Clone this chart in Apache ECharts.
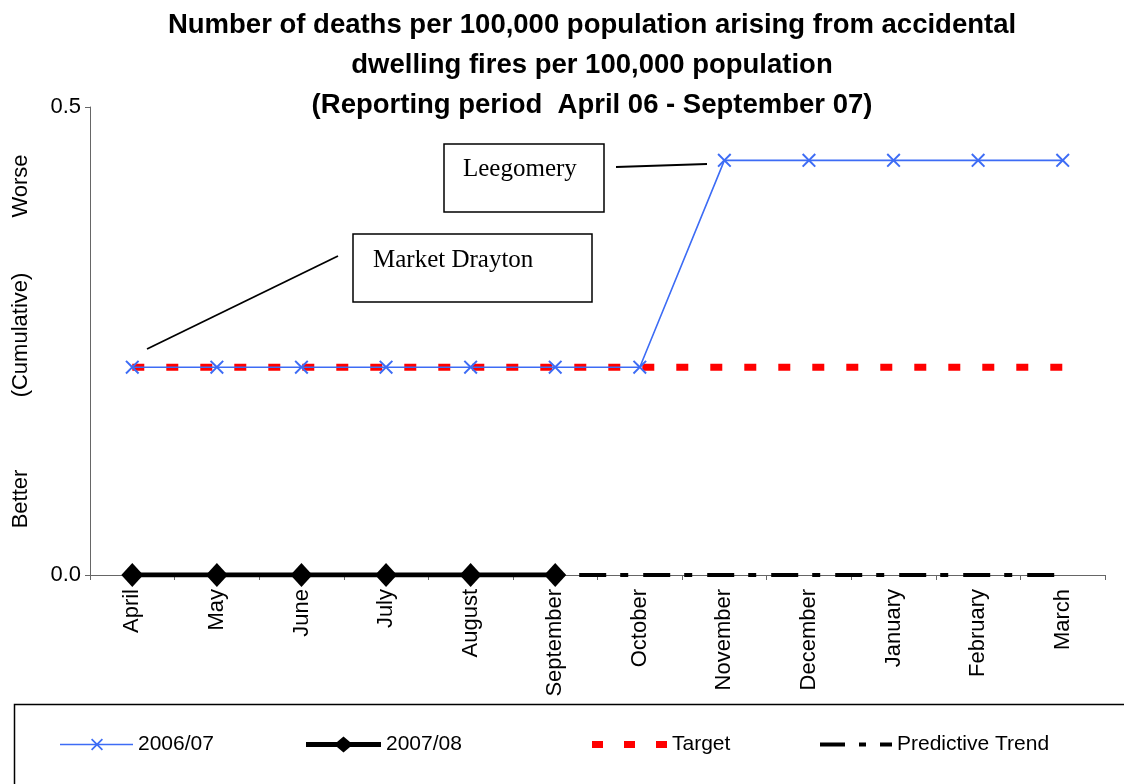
<!DOCTYPE html>
<html><head><meta charset="utf-8">
<script src="https://cdn.jsdelivr.net/npm/echarts@6/dist/echarts.min.js"></script>
<style>html,body{margin:0;padding:0;background:#fff}#c{width:1124px;height:784px}</style>
</head><body><div id="c"></div>
<script>
const months = ['April','May','June','July','August','September','October','November','December','January','February','March'];
const s2006 = [0.222,0.222,0.222,0.222,0.222,0.222,0.222,0.443,0.443,0.443,0.443,0.443];
const s2007 = [0,0,0,0,0,0,null,null,null,null,null,null];
const target = [0.222,0.222,0.222,0.222,0.222,0.222,0.222,0.222,0.222,0.222,0.222,0.222];
const trend = [null,null,null,null,null,0,0,0,0,0,0,0];
const yTicks = [0, 0.5];

const FONT = '"Liberation Sans", Arial, sans-serif';
const SERIF = '"Liberation Serif", "Times New Roman", serif';
const BLUE = '#3d6cf5';
const crossPath = 'path://M0,1L1,0L5,4L9,0L10,1L6,5L10,9L9,10L5,6L1,10L0,9L4,5Z';
const icon2006 = 'path://M0,5.3L73,5.3L73,6.7L0,6.7Z M31,1.2L32.2,0L37,4.8L41.8,0L43,1.2L38.2,6L43,10.8L41.8,12L37,7.2L32.2,12L31,10.8L35.8,6Z';
const icon2007 = 'path://M0,5.5L31,5.5L37.5,0L44,5.5L75,5.5L75,10.5L44,10.5L37.5,16L31,10.5L0,10.5Z';
const iconTarget = 'path://M0,0L11,0L11,7L0,7Z M32,0L43,0L43,7L32,7Z M64,0L75,0L75,7L64,7Z';
const iconTrend = 'path://M0,0L25,0L25,4L0,4Z M39,0L46,0L46,4L39,4Z M60,0L72,0L72,4L60,4Z';

const chart = echarts.init(document.getElementById('c'));
const lt = {fontFamily:FONT, fontSize:21, color:'#000'};
chart.setOption({
  animation:false,
  backgroundColor:'#fff',
  title:{
    text:'Number of deaths per 100,000 population arising from accidental\ndwelling fires per 100,000 population\n(Reporting period  April 06 - September 07)',
    left:587, textAlign:'center', top:0,
    textStyle:{fontFamily:FONT, fontSize:27.5, fontWeight:'bold', color:'#000', lineHeight:40}
  },
  grid:{left:90, right:19, top:107, bottom:209},
  xAxis:{
    type:'category', data:months, boundaryGap:true,
    axisLine:{lineStyle:{color:'#666', width:1}},
    axisTick:{show:true, length:5, lineStyle:{color:'#666'}},
    axisLabel:{rotate:90, fontFamily:FONT, fontSize:22, color:'#000', margin:14, interval:0}
  },
  yAxis:{
    type:'value', min:yTicks[0], max:yTicks[1], interval:0.5,
    axisLine:{show:true, lineStyle:{color:'#666', width:1}},
    axisTick:{show:true, length:5, lineStyle:{color:'#666'}},
    splitLine:{show:false},
    axisLabel:{fontFamily:FONT, fontSize:22, color:'#000', margin:9, formatter:v=>v.toFixed(1)}
  },
  legend:[
    {top:729, left:55, itemWidth:73, itemHeight:12, itemGap:0, textStyle:lt, data:[{name:'2006/07', icon:icon2006}]},
    {top:729, left:301, itemWidth:75, itemHeight:16, itemGap:0, textStyle:lt, data:[{name:'2007/08', icon:icon2007}]},
    {top:729, left:587, itemWidth:75, itemHeight:7, itemGap:0, textStyle:lt, data:[{name:'Target', icon:iconTarget}]},
    {top:729, left:815, itemWidth:72, itemHeight:4, itemGap:0, textStyle:lt, data:[{name:'Predictive Trend', icon:iconTrend}]}
  ],
  series:[
    {name:'Target', type:'line', data:target, symbol:'none', z:2,
     lineStyle:{color:'#ff0000', width:7, type:[12,22]}, itemStyle:{color:'#ff0000'}},
    {name:'Predictive Trend', type:'line', data:trend, symbol:'none', z:2, connectNulls:false,
     lineStyle:{color:'#000', width:4, type:[27,14,8,15], dashOffset:40}, itemStyle:{color:'#000'}},
    {name:'2006/07', type:'line', data:s2006, symbol:crossPath, symbolSize:14, z:4,
     lineStyle:{color:BLUE, width:1.6}, itemStyle:{color:BLUE}},
    {name:'2007/08', type:'line', data:s2007, symbol:'diamond', symbolSize:[22,24], z:5,
     lineStyle:{color:'#000', width:5}, itemStyle:{color:'#000'}}
  ],
  graphic:[
    {type:'rect', shape:{x:14.5, y:704.5, width:1120, height:100}, style:{fill:null, stroke:'#000', lineWidth:1.5}, silent:true},
    {type:'text', x:21, y:186, rotation:Math.PI/2, style:{text:'Worse', fontFamily:FONT, fontSize:22, fill:'#000', align:'center', verticalAlign:'middle'}},
    {type:'text', x:21, y:335, rotation:Math.PI/2, style:{text:'(Cumulative)', fontFamily:FONT, fontSize:22, fill:'#000', align:'center', verticalAlign:'middle'}},
    {type:'text', x:21, y:499, rotation:Math.PI/2, style:{text:'Better', fontFamily:FONT, fontSize:22, fill:'#000', align:'center', verticalAlign:'middle'}},
    {type:'rect', shape:{x:444, y:144, width:160, height:68}, style:{fill:'#fff', stroke:'#000', lineWidth:1.5}},
    {type:'text', x:463, y:169, style:{text:'Leegomery', fontFamily:SERIF, fontSize:25, fill:'#000', verticalAlign:'middle'}},
    {type:'line', shape:{x1:616, y1:167, x2:707, y2:164}, style:{stroke:'#000', lineWidth:1.8}},
    {type:'rect', shape:{x:353, y:234, width:239, height:68}, style:{fill:'#fff', stroke:'#000', lineWidth:1.5}},
    {type:'text', x:373, y:260, style:{text:'Market Drayton', fontFamily:SERIF, fontSize:25, fill:'#000', verticalAlign:'middle'}},
    {type:'line', shape:{x1:147, y1:349, x2:338, y2:256}, style:{stroke:'#000', lineWidth:1.8}}
  ]
});
</script></body></html>
